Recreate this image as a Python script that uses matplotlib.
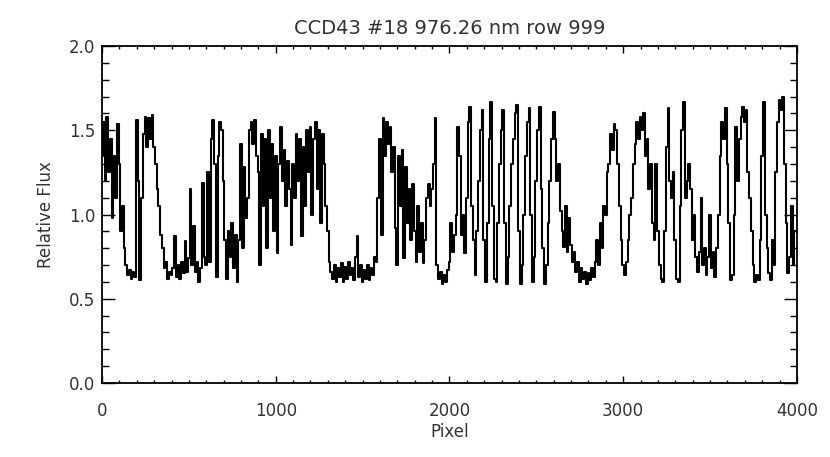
#!/usr/bin/env python3
"""Relative flux along one CCD row (IDL-style line plot)."""

import numpy as np
import matplotlib
matplotlib.use('Agg')
import matplotlib.pyplot as plt
from matplotlib.ticker import MultipleLocator

# pixel grid, one reading every 10 pixels
pixel = np.arange(0, 4000, 10)

# relative flux, 20 readings (200 pixels) per row
flux = [
    1.35, 1.55, 1.20, 1.58, 1.25, 1.45, 0.98, 1.35, 1.10, 1.54, 1.30, 0.90, 1.05, 0.80, 0.70, 0.64, 0.67, 0.62, 0.66, 0.63,  # 0
    1.56, 1.20, 0.61, 1.10, 1.48, 1.58, 1.40, 1.57, 1.45, 1.59, 1.40, 1.30, 1.15, 1.05, 0.88, 0.80, 0.68, 0.72, 0.62, 0.66,  # 200
    0.64, 0.68, 0.87, 0.63, 0.70, 0.62, 0.72, 0.65, 0.84, 0.66, 0.74, 1.15, 0.70, 0.93, 0.66, 0.72, 0.60, 0.68, 1.19, 0.75,  # 400
    0.70, 1.25, 0.72, 1.45, 1.56, 1.30, 0.63, 1.35, 1.55, 1.50, 1.20, 0.85, 0.62, 0.90, 0.75, 0.95, 0.68, 0.88, 0.60, 0.85,  # 600
    1.42, 0.80, 1.28, 0.98, 1.10, 1.50, 1.55, 1.42, 1.56, 1.35, 1.25, 0.70, 1.48, 1.05, 1.45, 0.80, 1.50, 1.10, 1.42, 0.90,  # 800
    1.35, 0.77, 1.30, 1.52, 1.20, 1.38, 1.05, 1.32, 1.15, 0.82, 1.30, 1.10, 1.48, 1.20, 1.45, 0.87, 1.40, 1.05, 1.50, 1.25,  # 1000
    1.52, 1.00, 1.45, 1.55, 1.15, 1.50, 0.95, 1.48, 1.30, 1.05, 0.90, 0.72, 0.66, 0.62, 0.70, 0.60, 0.68, 0.63, 0.71, 0.60,  # 1200
    0.69, 0.62, 0.72, 0.64, 0.68, 0.61, 0.75, 0.87, 0.63, 0.70, 0.60, 0.67, 0.62, 0.70, 0.61, 0.68, 0.64, 0.75, 0.72, 1.10,  # 1400
    1.45, 0.88, 1.57, 1.35, 1.55, 1.42, 1.52, 1.25, 1.40, 0.92, 0.70, 1.35, 1.05, 1.38, 0.74, 1.28, 0.95, 1.15, 0.85, 1.18,  # 1600
    0.90, 0.72, 1.05, 0.78, 0.95, 0.71, 0.85, 1.10, 1.18, 1.05, 1.15, 1.30, 1.57, 0.70, 0.62, 0.66, 0.59, 0.64, 0.60, 0.67,  # 1800
    0.72, 0.95, 0.78, 0.88, 1.00, 1.52, 1.35, 0.88, 1.00, 0.77, 1.10, 1.55, 1.64, 1.05, 0.85, 0.64, 0.90, 1.20, 1.50, 1.62,  # 2000
    0.85, 0.60, 0.95, 1.45, 1.67, 1.05, 0.62, 0.60, 0.95, 1.30, 1.50, 1.62, 0.95, 0.59, 0.75, 1.05, 1.30, 1.45, 1.60, 1.65,  # 2200
    0.90, 0.59, 0.70, 1.00, 1.35, 1.55, 1.63, 1.00, 0.60, 0.75, 1.20, 1.50, 1.64, 1.15, 0.80, 0.59, 0.70, 0.95, 1.20, 1.45,  # 2400
    1.61, 1.45, 1.20, 1.30, 1.02, 0.90, 0.81, 1.05, 0.78, 0.98, 0.82, 0.72, 0.78, 0.66, 0.72, 0.60, 0.68, 0.62, 0.66, 0.59,  # 2600
    0.65, 0.61, 0.68, 0.63, 0.72, 0.85, 0.70, 0.95, 0.80, 1.05, 1.00, 1.25, 1.30, 1.48, 1.38, 1.54, 1.50, 1.30, 1.05, 0.85,  # 2800
    0.70, 0.64, 0.72, 0.85, 1.00, 1.10, 1.30, 1.42, 1.55, 1.45, 1.58, 1.50, 1.60, 1.35, 1.45, 1.15, 1.30, 0.95, 0.85, 1.30,  # 3000
    0.90, 0.70, 0.62, 0.60, 0.90, 1.40, 1.63, 1.20, 1.10, 1.25, 0.85, 0.62, 0.60, 1.05, 1.50, 1.67, 1.10, 1.20, 1.30, 1.15,  # 3200
    0.85, 1.00, 0.75, 0.66, 0.78, 1.10, 0.70, 0.80, 0.64, 0.75, 1.00, 0.68, 0.78, 0.63, 0.80, 1.00, 1.35, 1.55, 1.45, 1.63,  # 3400
    1.30, 0.95, 0.61, 0.64, 1.00, 1.52, 1.20, 1.45, 1.58, 1.64, 1.55, 1.62, 1.25, 1.10, 0.90, 0.70, 0.60, 0.64, 0.61, 0.85,  # 3600
    1.35, 1.67, 1.00, 0.80, 0.65, 0.61, 0.85, 0.70, 1.25, 1.55, 1.68, 1.62, 1.70, 1.30, 0.95, 0.65, 0.75, 1.05, 0.70, 0.90,  # 3800
]

x_ticks = [0, 1000, 2000, 3000, 4000]
y_ticks = [0.0, 0.5, 1.0, 1.5, 2.0]

title = 'CCD43 #18 976.26 nm row 999'

text_col = '#333333'

fig = plt.figure(figsize=(8.30, 4.57), dpi=100)
ax = fig.add_axes([0.1229, 0.1619, 0.8373, 0.7374])

# histogram-style trace, like IDL psym=10
ax.plot(pixel, flux, color='black', lw=1.5, drawstyle='steps-mid')

ax.set_xlim(0, 4000)
ax.set_ylim(0.0, 2.0)
ax.set_xticks(x_ticks)
ax.set_yticks(y_ticks)
ax.set_yticklabels([f'{v:.1f}' for v in y_ticks])
ax.xaxis.set_minor_locator(MultipleLocator(100))
ax.yaxis.set_minor_locator(MultipleLocator(0.1))

# IDL look: inward ticks on all four sides
ax.tick_params(axis='both', which='both', direction='in',
               top=True, right=True, colors='black', labelcolor=text_col,
               labelsize=12, width=1.0)
ax.tick_params(axis='x', which='major', length=5, pad=14)
ax.tick_params(axis='x', which='minor', length=2.5)
ax.tick_params(axis='y', which='major', length=9.5, pad=5)
ax.tick_params(axis='y', which='minor', length=5)

for sp in ax.spines.values():
    sp.set_linewidth(1.3)

ax.set_xlabel('Pixel', fontsize=12, color=text_col, labelpad=2)
ax.set_ylabel('Relative Flux', fontsize=12, color=text_col, labelpad=10)
ax.set_title(title, fontsize=14, color=text_col, pad=9)

fig.savefig('out.png', dpi=100)
